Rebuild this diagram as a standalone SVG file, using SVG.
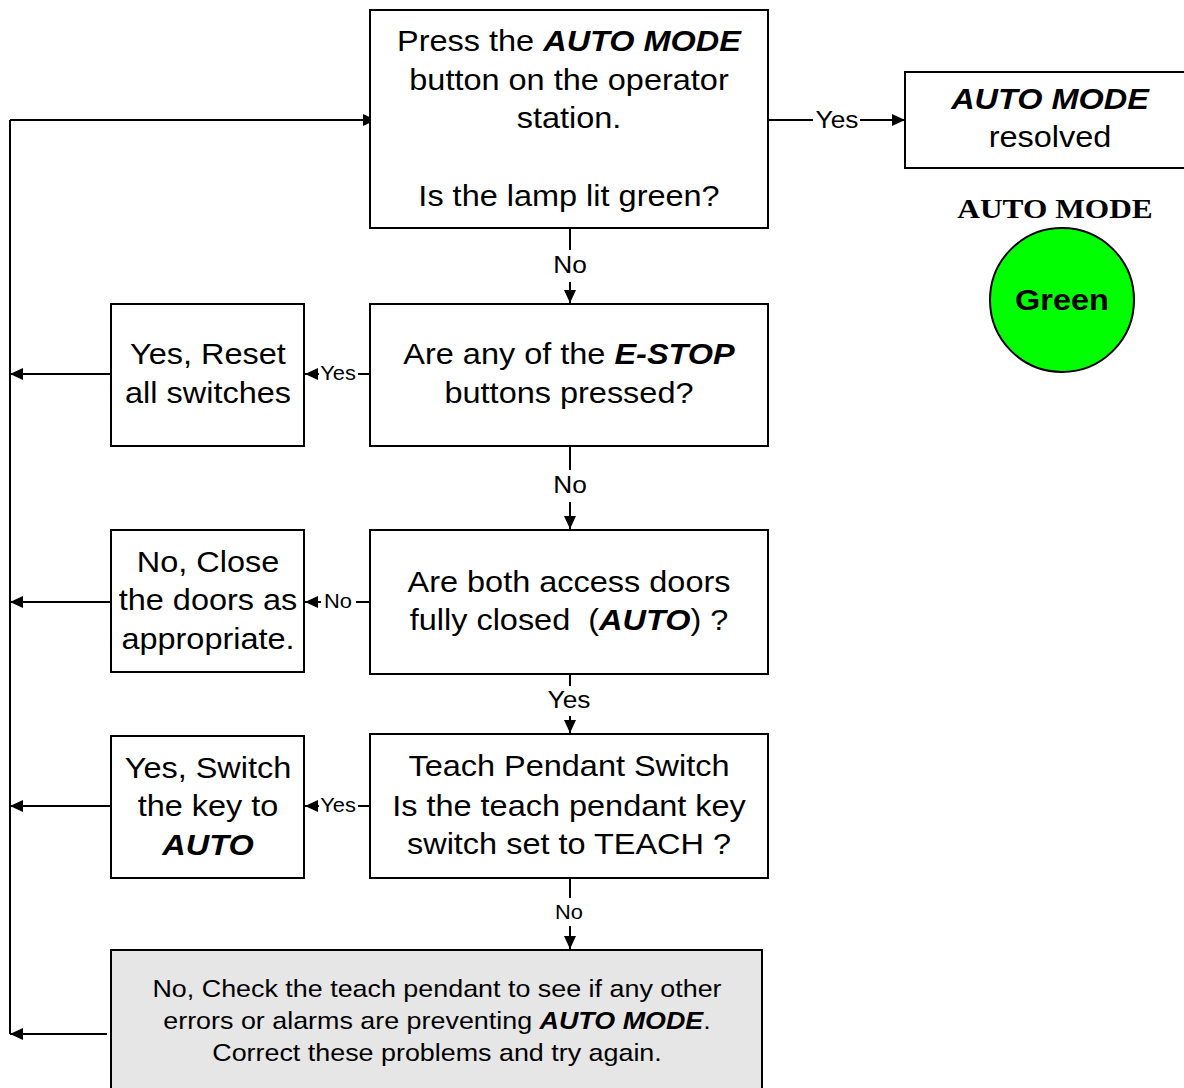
<svg xmlns="http://www.w3.org/2000/svg" width="1184" height="1088" viewBox="0 0 1184 1088">
<style>
.box{fill:#fff;stroke:#000;stroke-width:2}
.gray{fill:#e6e6e6;stroke:#000;stroke-width:2}
text{font-family:"Liberation Sans",Arial,sans-serif;fill:#000;text-anchor:middle}
.t{font-size:29px}
.s{font-size:24px}
.lb{font-size:23.5px}
.ls{font-size:19.5px}
.bi{font-weight:bold;font-style:italic}
.c{fill:none;stroke:#000;stroke-width:2}
.a{marker-end:url(#ah)}
</style>
<defs>
<marker id="ah" markerUnits="userSpaceOnUse" markerWidth="14" markerHeight="12" refX="13" refY="6" orient="auto">
<path d="M0,0 L13,6 L0,12 Z" fill="#000"/>
</marker>
</defs>
<g id="connectors">
<path class="c" d="M10,1034 L10,120"/>
<path class="c a" d="M10,120 L376,120"/>
<path class="c" d="M768,120 L813,120"/>
<path class="c a" d="M860,120 L905,120"/>
<path class="c" d="M570,228 L570,250"/>
<path class="c a" d="M570,282 L570,303"/>
<path class="c" d="M370,374 L358,374"/>
<path class="c a" d="M319,374 L305,374"/>
<path class="c a" d="M111,374 L10,374"/>
<path class="c" d="M570,446 L570,470"/>
<path class="c a" d="M570,502 L570,529"/>
<path class="c" d="M370,602 L356,602"/>
<path class="c a" d="M321,602 L305,602"/>
<path class="c a" d="M111,602 L10,602"/>
<path class="c" d="M570,674 L570,686"/>
<path class="c a" d="M570,716 L570,733"/>
<path class="c" d="M370,806 L358,806"/>
<path class="c a" d="M319,806 L305,806"/>
<path class="c a" d="M111,806 L10,806"/>
<path class="c" d="M570,878 L570,898"/>
<path class="c a" d="M570,926 L570,949"/>
<path class="c a" d="M107,1034 L10,1034"/>
<text class="lb" transform="translate(837 0) scale(1.12 1)" x="0" y="128">Yes</text>
<text class="lb" transform="translate(570 0) scale(1.12 1)" x="0" y="273">No</text>
<text class="ls" transform="translate(338 0) scale(1.12 1)" x="0" y="380">Yes</text>
<text class="lb" transform="translate(570 0) scale(1.12 1)" x="0" y="493">No</text>
<text class="ls" transform="translate(338 0) scale(1.12 1)" x="0" y="608">No</text>
<text class="lb" transform="translate(569 0) scale(1.12 1)" x="0" y="708">Yes</text>
<text class="ls" transform="translate(338 0) scale(1.12 1)" x="0" y="812">Yes</text>
<text class="ls" transform="translate(569 0) scale(1.12 1)" x="0" y="919">No</text>
</g>
<g id="n-press">
<rect class="box" x="370" y="10" width="398" height="218"/>
<g transform="translate(569 0) scale(1.12 1)">
<text class="t" x="0" y="51">Press the <tspan class="bi">AUTO MODE</tspan></text>
<text class="t" x="0" y="90">button on the operator</text>
<text class="t" x="0" y="128">station.</text>
<text class="t" x="0" y="206">Is the lamp lit green?</text>
</g>
</g>
<g id="n-resolved">
<rect class="box" x="905" y="72" width="290" height="96"/>
<g transform="translate(1050 0) scale(1.12 1)">
<text class="t bi" x="0" y="109">AUTO MODE</text>
<text class="t" x="0" y="147">resolved</text>
</g>
</g>
<g id="n-lamp">
<text transform="translate(1055 0) scale(1.12 1)" x="0" y="218" style="font-family:'Liberation Serif','Times New Roman',serif;font-weight:bold;font-size:28px">AUTO MODE</text>
<circle cx="1062" cy="300" r="72" fill="#00ff00" stroke="#000" stroke-width="2"/>
<text class="t" transform="translate(1062 0) scale(1.12 1)" x="0" y="310" font-weight="bold">Green</text>
</g>
<g id="n-estop">
<rect class="box" x="370" y="304" width="398" height="142"/>
<g transform="translate(569 0) scale(1.12 1)">
<text class="t" x="0" y="364">Are any of the <tspan class="bi">E-STOP</tspan></text>
<text class="t" x="0" y="403">buttons pressed?</text>
</g>
</g>
<g id="n-reset">
<rect class="box" x="111" y="304" width="193" height="142"/>
<g transform="translate(208 0) scale(1.12 1)">
<text class="t" x="0" y="364">Yes, Reset</text>
<text class="t" x="0" y="403">all switches</text>
</g>
</g>
<g id="n-doors">
<rect class="box" x="370" y="530" width="398" height="144"/>
<g transform="translate(569 0) scale(1.12 1)">
<text class="t" x="0" y="592">Are both access doors</text>
<text class="t" x="0" y="630" xml:space="preserve">fully closed  (<tspan class="bi">AUTO</tspan>) ?</text>
</g>
</g>
<g id="n-close">
<rect class="box" x="111" y="530" width="193" height="142"/>
<g transform="translate(208 0) scale(1.12 1)">
<text class="t" x="0" y="572">No, Close</text>
<text class="t" x="0" y="610">the doors as</text>
<text class="t" x="0" y="649">appropriate.</text>
</g>
</g>
<g id="n-teach">
<rect class="box" x="370" y="734" width="398" height="144"/>
<g transform="translate(569 0) scale(1.12 1)">
<text class="t" x="0" y="776">Teach Pendant Switch</text>
<text class="t" x="0" y="816">Is the teach pendant key</text>
<text class="t" x="0" y="854">switch set to TEACH ?</text>
</g>
</g>
<g id="n-switch">
<rect class="box" x="111" y="736" width="193" height="142"/>
<g transform="translate(208 0) scale(1.12 1)">
<text class="t" x="0" y="778">Yes, Switch</text>
<text class="t" x="0" y="816">the key to</text>
<text class="t bi" x="0" y="855">AUTO</text>
</g>
</g>
<g id="n-check">
<rect class="gray" x="111" y="950" width="651" height="150"/>
<g transform="translate(437 0) scale(1.12 1)">
<text class="s" x="0" y="997">No, Check the teach pendant to see if any other</text>
<text class="s" x="0" y="1029">errors or alarms are preventing <tspan class="bi">AUTO MODE</tspan>.</text>
<text class="s" x="0" y="1061">Correct these problems and try again.</text>
</g>
</g>
</svg>
